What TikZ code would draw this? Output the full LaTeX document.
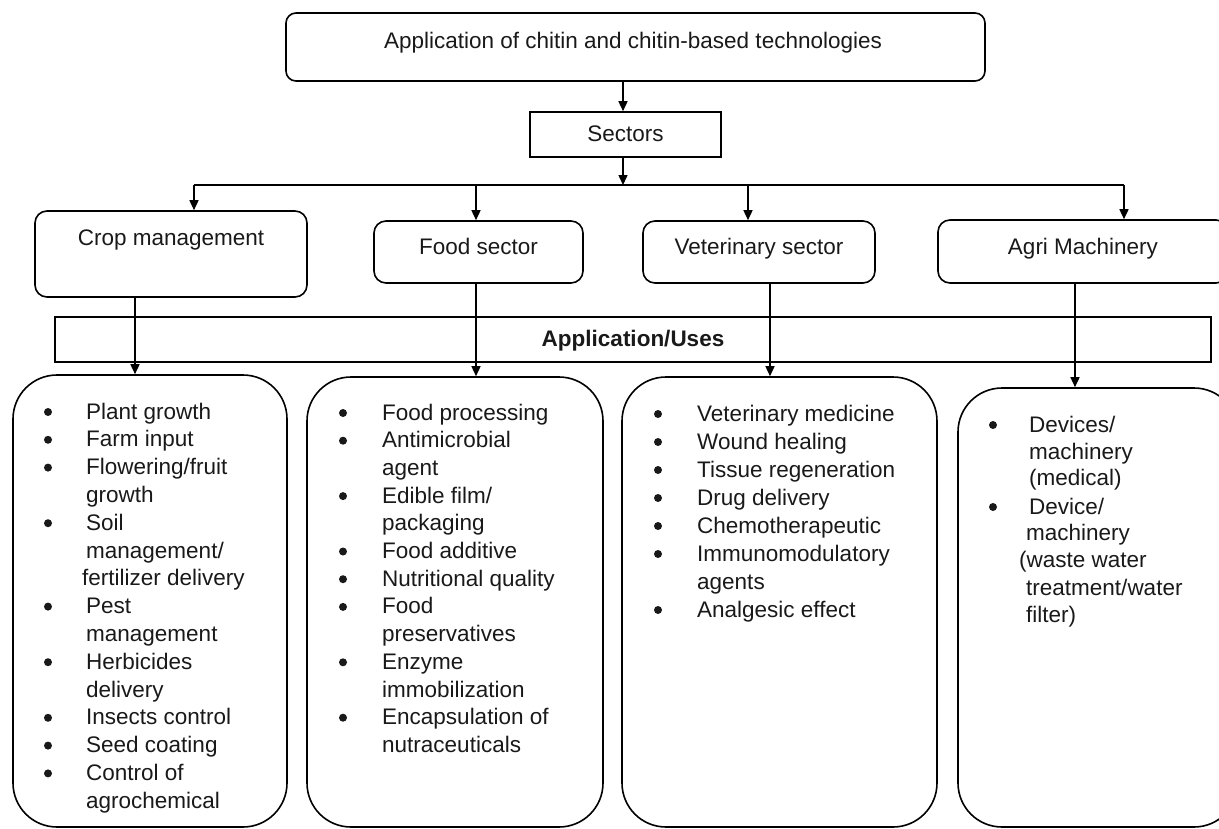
\documentclass[tikz,border=0pt]{standalone}
\usepackage{fontspec}
\setmainfont{Liberation Sans}
\usetikzlibrary{arrows.meta}
\begin{document}
\begin{tikzpicture}[x=1pt,y=-1pt,
  every node/.style={text=black!90},
  rbox/.style={draw, line width=1.6pt, inner sep=0pt, rounded corners=#1},
  rbox/.default=10pt,
  sbox/.style={draw, line width=1.6pt, inner sep=0pt},
  txt/.style={anchor=base, inner sep=0pt, font=\fontsize{22.5}{27.8}\selectfont},
  item/.style={anchor=base west, inner sep=0pt, font=\fontsize{22.5}{27.8}\selectfont},
  dotb/.style={fill=black!90},
  arr/.style={line width=1.5pt, -{Triangle[length=10pt,width=9pt]}},
  ln/.style={line width=1.5pt}
]
\useasboundingbox (0,0) rectangle (1219,828);
% top
\node[rbox=10pt, minimum width=699pt, minimum height=68pt] (top) at (635.5,47) {};
\node[txt] (toptxt) at (633,48) {Application of chitin and chitin-based technologies};
\node[sbox, minimum width=191pt, minimum height=45pt] (sec) at (625.5,134.5) {};
\node[txt] (sectxt) at (625.5,141) {Sectors};
\coordinate (bc) at (623,185);
\coordinate (bl) at (194,185);
\coordinate (b2) at (476,185);
\coordinate (b3) at (748,185);
\coordinate (br) at (1124,185);
\draw[arr] (top.south -| bc) -- (sec.north -| bc);
\draw[arr] (sec.south -| bc) -- (bc);
\draw[ln] (bl) -- (br);
% sectors
\node[rbox=12pt, minimum width=272pt, minimum height=86pt] (crop) at (171,254) {};
\node[txt] (croptxt) at (171,245) {Crop management};
\node[rbox=12pt, minimum width=209pt, minimum height=62pt] (food) at (478.5,252) {};
\node[txt] (foodtxt) at (478.5,254) {Food sector};
\node[rbox=12pt, minimum width=232pt, minimum height=62pt] (vet) at (759,252) {};
\node[txt] (vettxt) at (759,254) {Veterinary sector};
\node[rbox=12pt, minimum width=290pt, minimum height=63pt] (agri) at (1083,251.5) {};
\node[txt] (agritxt) at (1083,254) {Agri Machinery};
\draw[arr] (bl) -- (bl |- crop.north);
\draw[arr] (b2) -- (b2 |- food.north);
\draw[arr] (b3) -- (b3 |- vet.north);
\draw[arr] (br) -- (br |- agri.north);
% application bar
\node[sbox, minimum width=1156pt, minimum height=45pt] (bar) at (633,339.5) {};
\node[txt, font=\fontsize{22.5}{27.8}\selectfont\bfseries] (bartxt) at (633,346) {Application/Uses};
% lists
\node[rbox=44pt, minimum width=274pt, minimum height=452pt] (u1) at (150,601) {};
\node[rbox=44pt, minimum width=296pt, minimum height=450pt] (u2) at (455,602) {};
\node[rbox=44pt, minimum width=315pt, minimum height=450pt] (u3) at (779.5,602) {};
\node[rbox=44pt, minimum width=280pt, minimum height=439pt] (u4) at (1098,607.5) {};
\coordinate (d1) at (135,0);
\coordinate (d2) at (476,0);
\coordinate (d3) at (770,0);
\coordinate (d4) at (1075,0);
\draw[arr] (crop.south -| d1) -- (u1.north -| d1);
\draw[arr] (food.south -| d2) -- (u2.north -| d2);
\draw[arr] (vet.south -| d3) -- (u3.north -| d3);
\draw[arr] (agri.south -| d4) -- (u4.north -| d4);
\foreach \b/\t [count=\i] in {1/{Plant growth}, 1/{Farm input}, 1/{Flowering/fruit}, 0/{growth}, 1/{Soil}, 0/{management/}, 0/{\hspace*{-4pt}fertilizer delivery}, 1/{Pest}, 0/{management}, 1/{Herbicides}, 0/{delivery}, 1/{Insects control}, 1/{Seed coating}, 1/{Control of}, 0/{agrochemical}}{
  \node[item] (ia\i) at (86,{419+27.8*(\i-1)}) {\t};
  \ifnum\b=1 \fill[dotb] (86,{412+27.8*(\i-1)}) ++(-38,0) circle[radius=4pt]; \fi
}
\foreach \b/\t [count=\i] in {1/{Food processing}, 1/{Antimicrobial}, 0/{agent}, 1/{Edible film/}, 0/{packaging}, 1/{Food additive}, 1/{Nutritional quality}, 1/{Food}, 0/{preservatives}, 1/{Enzyme}, 0/{immobilization}, 1/{Encapsulation of}, 0/{nutraceuticals}}{
  \node[item] (ib\i) at (382,{420+27.7*(\i-1)}) {\t};
  \ifnum\b=1 \fill[dotb] (382,{413+27.7*(\i-1)}) ++(-39,0) circle[radius=4pt]; \fi
}
\foreach \b/\t [count=\i] in {1/{Veterinary medicine}, 1/{Wound healing}, 1/{Tissue regeneration}, 1/{Drug delivery}, 1/{Chemotherapeutic}, 1/{Immunomodulatory}, 0/{agents}, 1/{Analgesic effect}}{
  \node[item] (ic\i) at (697,{421+28*(\i-1)}) {\t};
  \ifnum\b=1 \fill[dotb] (697,{414+28*(\i-1)}) ++(-39,0) circle[radius=4pt]; \fi
}
\node[item] (id1) at (1029,432) {Devices/};
\node[item] (id2) at (1029,459.5) {machinery};
\node[item] (id3) at (1029,485) {(medical)};
\node[item] (id4) at (1029,514) {Device/};
\node[item] (id5) at (1026,540.5) {machinery};
\node[item] (id6) at (1019,567) {(waste water};
\node[item] (id7) at (1026,595) {treatment/water};
\node[item] (id8) at (1026,622) {filter)};
\fill[dotb] (993,425) circle[radius=4pt];
\fill[dotb] (993,507) circle[radius=4pt];
\end{tikzpicture}
\end{document}
